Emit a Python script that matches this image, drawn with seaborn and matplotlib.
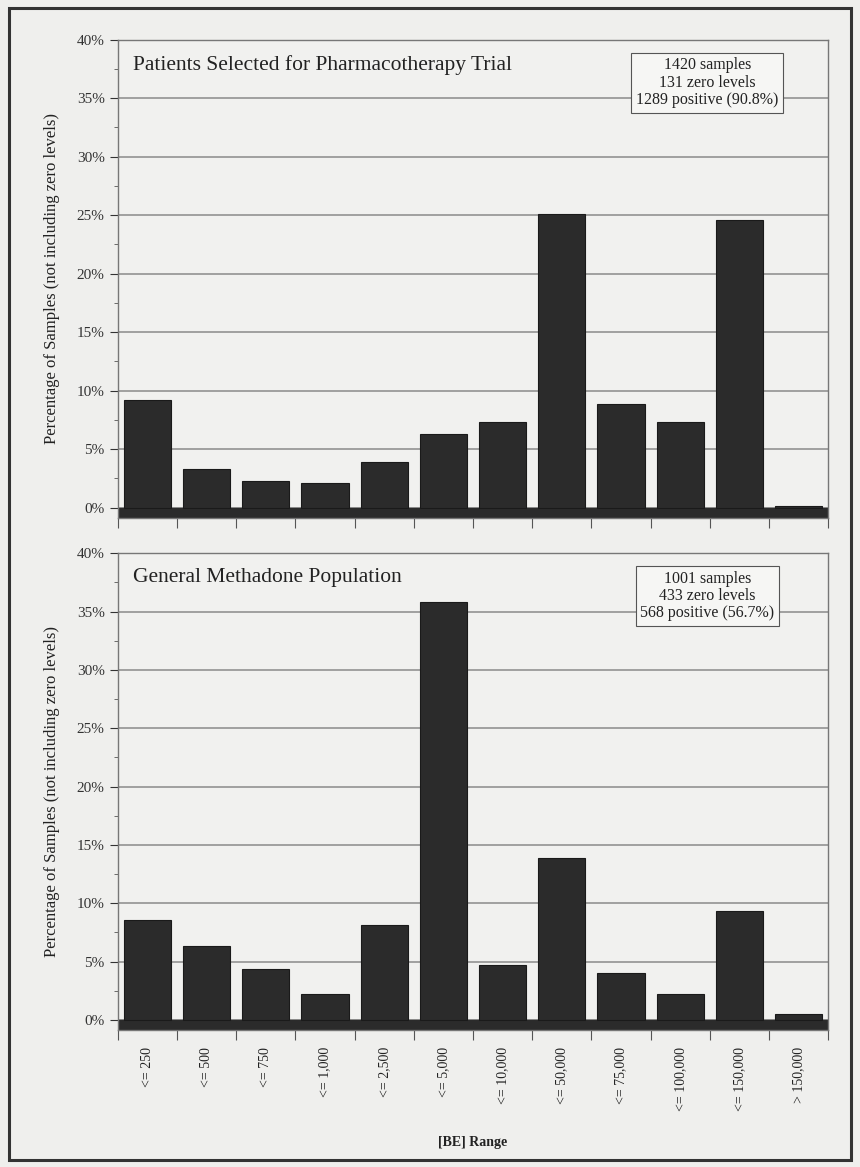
import matplotlib
matplotlib.use("Agg")
import matplotlib.pyplot as plt
import seaborn as sns
import pandas as pd
import numpy as np
from matplotlib.ticker import MultipleLocator, FuncFormatter, FixedLocator
from matplotlib.patches import Rectangle

categories = ["<= 250", "<= 500", "<= 750", "<= 1,000", "<= 2,500", "<= 5,000",
              "<= 10,000", "<= 50,000", "<= 75,000", "<= 100,000", "<= 150,000", "> 150,000"]
trial_pct = [9.2, 3.3, 2.3, 2.1, 3.9, 6.3, 7.3, 25.1, 8.9, 7.3, 24.6, 0.1]
general_pct = [8.6, 6.3, 4.4, 2.2, 8.1, 35.8, 4.7, 13.9, 4.0, 2.2, 9.3, 0.5]

panel_titles = ["Patients Selected for Pharmacotherapy Trial", "General Methadone Population"]
panel_notes = ["1420 samples\n131 zero levels\n1289 positive (90.8%)",
               "1001 samples\n433 zero levels\n568 positive (56.7%)"]
y_label = "Percentage of Samples (not including zero levels)"
x_label = "[BE] Range"

sns.set_theme(style="white")
plt.rcParams['font.family'] = ['Liberation Serif', 'DejaVu Serif']

fig = plt.figure(figsize=(8.6, 11.67), dpi=100)
fig.patch.set_facecolor("#efefed")
fig.patches.append(Rectangle((0.011, 0.006), 0.978, 0.987, transform=fig.transFigure,
                             fill=False, edgecolor="#333333", linewidth=2.2))

ax_top = fig.add_axes([0.137, 0.556, 0.826, 0.41])
ax_bot = fig.add_axes([0.137, 0.117, 0.826, 0.409])

for ax, vals, title, note in zip([ax_top, ax_bot], [trial_pct, general_pct], panel_titles, panel_notes):
    df = pd.DataFrame({"range": categories, "pct": vals})
    ax.set_facecolor("#f1f1ef")
    sns.barplot(data=df, x="range", y="pct", ax=ax, color="#2b2b2b", saturation=1,
                width=0.8, edgecolor="#1a1a1a", linewidth=0.8, zorder=3)
    ax.axhspan(-0.9, 0, color="#2b2b2b", zorder=2)
    ax.set_ylim(-0.9, 40)
    ax.set_xlim(-0.5, 11.5)
    ax.yaxis.set_major_locator(MultipleLocator(5))
    ax.yaxis.set_minor_locator(MultipleLocator(2.5))
    ax.yaxis.set_major_formatter(FuncFormatter(lambda v, p: f"{int(v)}%"))
    ax.xaxis.set_minor_locator(FixedLocator(np.arange(-0.5, len(categories), 1.0)))
    ax.grid(axis="y", which="major", color="#8a8a8a", linewidth=1.1, zorder=0)
    ax.set_axisbelow(True)
    ax.tick_params(axis="y", which="major", direction="out", length=6, width=0.8,
                   labelsize=11, colors="#333333", left=True)
    ax.tick_params(axis="y", which="minor", direction="out", length=3, width=0.6, left=True,
                   colors="#555555")
    ax.tick_params(axis="x", which="major", length=0, bottom=True, colors="#222222", pad=12)
    ax.tick_params(axis="x", which="minor", direction="out", length=7, width=0.8,
                   bottom=True, colors="#555555")
    for side in ["top", "right", "left", "bottom"]:
        ax.spines[side].set_visible(True)
        ax.spines[side].set_color("#777777")
        ax.spines[side].set_linewidth(1.0)
    ax.set_ylabel(y_label, fontsize=12, color="#222222", labelpad=12)
    ax.text(0.022, 0.968, title, transform=ax.transAxes, fontsize=15.5, color="#222222",
            va="top", ha="left")
    ax.text(0.83, 0.963, note, transform=ax.transAxes, fontsize=11.5, color="#222222",
            va="top", ha="center", linespacing=1.1,
            bbox=dict(boxstyle="square,pad=0.3", facecolor="#f6f6f4", edgecolor="#555555",
                      linewidth=0.8), zorder=5)

ax_top.set_xlabel("")
ax_top.set_xticklabels([])
ax_bot.set_xticks(range(len(categories)))
ax_bot.set_xticklabels(categories, rotation=90, fontsize=10, color="#222222")
ax_bot.set_xlabel(x_label, fontsize=10, fontweight="bold", color="#222222", labelpad=18)

fig.savefig("out.png", dpi=100, facecolor=fig.get_facecolor())
